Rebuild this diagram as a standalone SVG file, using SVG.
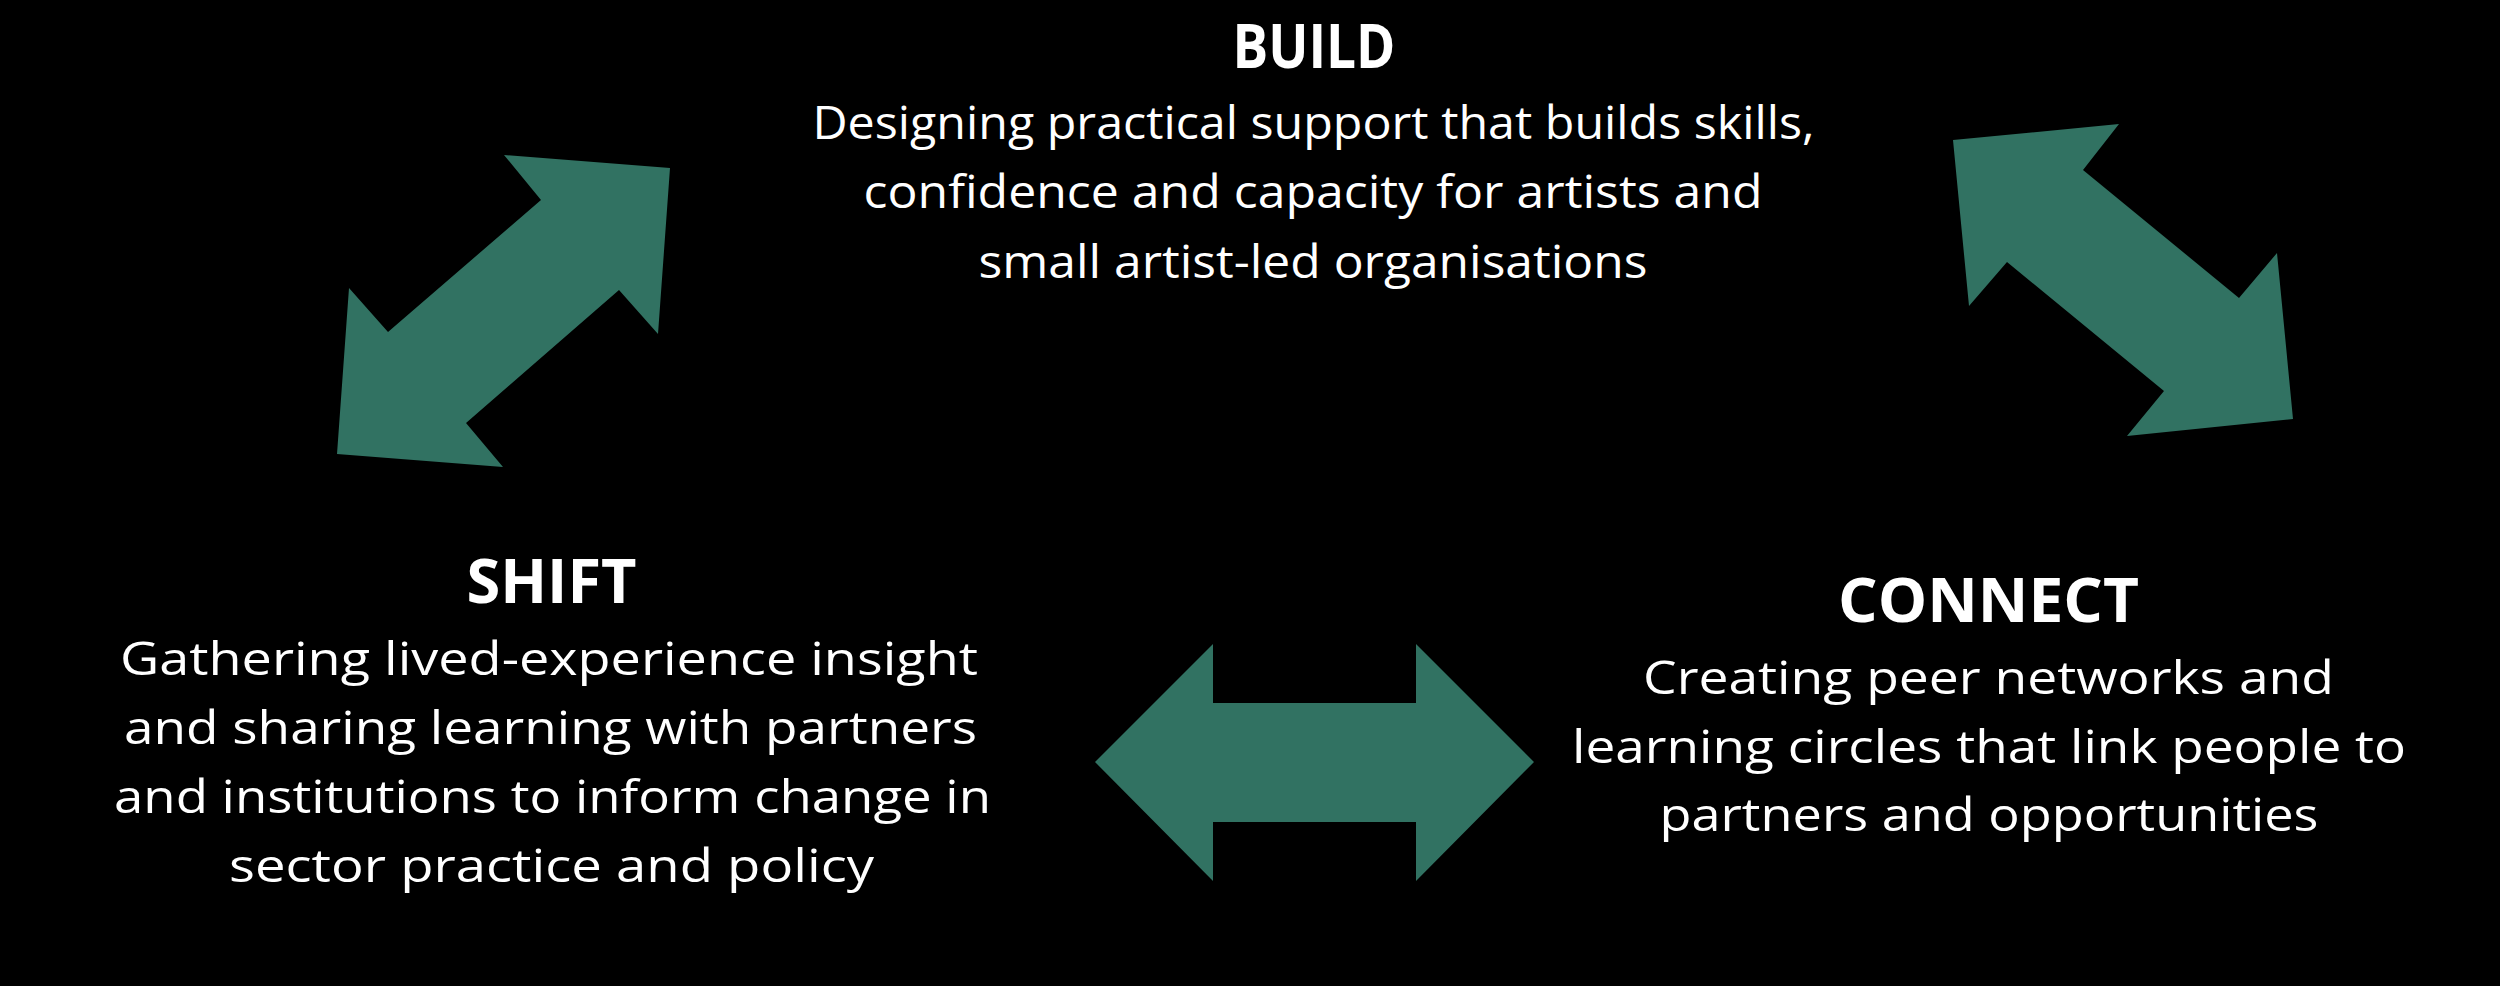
<svg xmlns="http://www.w3.org/2000/svg" width="2500" height="986" viewBox="0 0 2500 986">
  <style>
    .title { font-family: "Open Sans", "Liberation Sans", sans-serif; font-weight: 700; font-size: 60px; fill: #ffffff; text-anchor: middle; }
    .body { font-family: "Open Sans", "Liberation Sans", sans-serif; font-weight: 400; font-size: 45px; fill: #ffffff; text-anchor: middle; }
    .arrow { fill: #317262; stroke: none; }
  </style>
  <rect x="0" y="0" width="2500" height="986" fill="#000000"/>
  <g id="connectors">
    <polygon id="arrow-shift-build" class="arrow" points="504,155 670,168 658,334 619,290 466,423 503,467 337,454 349,288 388,332 541,200"/>
    <polygon id="arrow-build-connect" class="arrow" points="1953,140 2119,124 2083,170 2239,298 2277,253 2293,419 2127,436 2164,391 2007,262 1969,306"/>
    <polygon id="arrow-shift-connect" class="arrow" points="1095,762 1213,644 1213,703 1416,703 1416,644 1534,762 1416,881 1416,822 1213,822 1213,881"/>
  </g>
  <g id="node-build">
    <text class="title" x="1314" y="68" textLength="163" lengthAdjust="spacingAndGlyphs">BUILD</text>
    <text class="body" x="1313.5" y="139" textLength="1002" lengthAdjust="spacingAndGlyphs">Designing practical support that builds skills,</text>
    <text class="body" x="1313" y="208" textLength="899" lengthAdjust="spacingAndGlyphs">confidence and capacity for artists and</text>
    <text class="body" x="1313" y="278" textLength="669" lengthAdjust="spacingAndGlyphs">small artist-led organisations</text>
  </g>
  <g id="node-shift">
    <text class="title" x="551.5" y="603" textLength="170" lengthAdjust="spacingAndGlyphs">SHIFT</text>
    <text class="body" x="549" y="675" textLength="858" lengthAdjust="spacingAndGlyphs">Gathering lived-experience insight</text>
    <text class="body" x="550.5" y="744" textLength="853" lengthAdjust="spacingAndGlyphs">and sharing learning with partners</text>
    <text class="body" x="552.5" y="813" textLength="877" lengthAdjust="spacingAndGlyphs">and institutions to inform change in</text>
    <text class="body" x="551.5" y="882" textLength="645" lengthAdjust="spacingAndGlyphs">sector practice and policy</text>
  </g>
  <g id="node-connect">
    <text class="title" x="1988.5" y="622" textLength="301" lengthAdjust="spacingAndGlyphs">CONNECT</text>
    <text class="body" x="1988.5" y="694" textLength="691" lengthAdjust="spacingAndGlyphs">Creating peer networks and</text>
    <text class="body" x="1989" y="763" textLength="834" lengthAdjust="spacingAndGlyphs">learning circles that link people to</text>
    <text class="body" x="1989" y="831" textLength="659" lengthAdjust="spacingAndGlyphs">partners and opportunities</text>
  </g>
</svg>
